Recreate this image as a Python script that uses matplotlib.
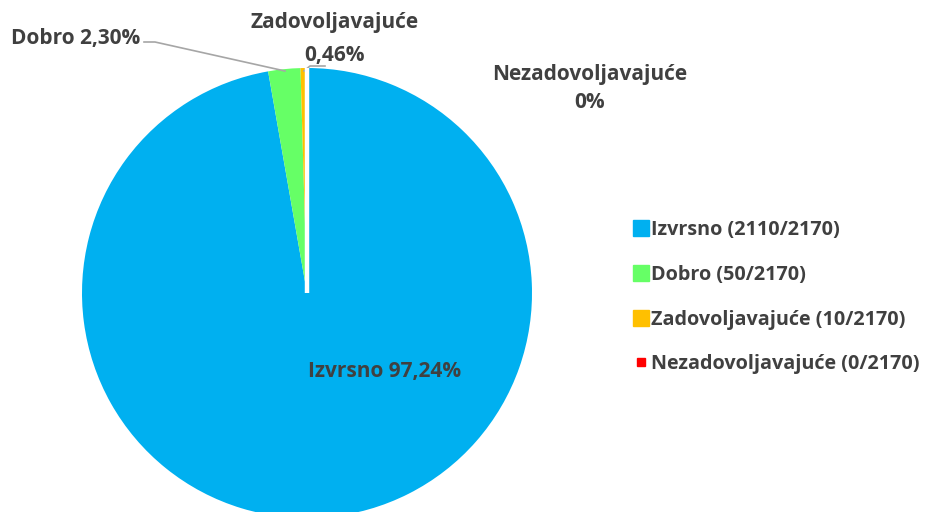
import matplotlib.pyplot as plt
from matplotlib.lines import Line2D

# podaci
kategorije = ['Izvrsno', 'Dobro', 'Zadovoljavajuće', 'Nezadovoljavajuće']
broj = [2110, 50, 10, 0]
ukupno = 2170
postotci = ['97,24%', '2,30%', '0,46%', '0%']
boje = ['#00B0F0', '#66FF66', '#FFC000', '#FF0000']

plt.rcParams['font.family'] = ['Open Sans', 'DejaVu Sans']
plt.rcParams['font.weight'] = 'bold'
tekst = '#404040'

fig = plt.figure(figsize=(9.29, 5.12), dpi=100)
ax = fig.add_axes([0, 0, 1, 1])

# pita (y os okrenuta, pa je counterclock=True zapravo smjer kazaljke)
wedges, _ = ax.pie(broj, colors=boje, startangle=-90, counterclock=True,
                   center=(307, 293), radius=225, frame=True)
ax.set_xlim(0, 929)
ax.set_ylim(512, 0)
ax.set_aspect('equal')
ax.axis('off')
for w in wedges:
    w.set_linewidth(0)
# bijela linija za nultu kategoriju
wedges[3].set_edgecolor('white')
wedges[3].set_linewidth(3.2)
wedges[3].set_zorder(5)

fs = 15
ax.text(385, 372, f'{kategorije[0]} {postotci[0]}', ha='center', va='center',
        fontsize=fs, color=tekst, fontweight='bold')
ax.text(140, 38, f'{kategorije[1]} {postotci[1]}', ha='right', va='center',
        fontsize=fs, color=tekst, fontweight='bold')
ax.plot([144, 155, 285], [42, 42, 71], color='#A6A6A6', lw=1.2)
ax.text(335, 22, kategorije[2], ha='center', va='center',
        fontsize=fs, color=tekst, fontweight='bold')
ax.text(335, 55, postotci[2], ha='center', va='center',
        fontsize=fs, color=tekst, fontweight='bold')
ax.plot([304, 310, 325], [71, 66, 66], color='#A6A6A6', lw=1.2)
ax.text(590, 74, kategorije[3], ha='center', va='center',
        fontsize=fs, color=tekst, fontweight='bold')
ax.text(590, 103, postotci[3], ha='center', va='center',
        fontsize=fs, color=tekst, fontweight='bold')

# legenda
vel = [11, 11, 11, 6]
handles = [Line2D([], [], marker='s', ls='none', markersize=v, color=b,
                  markeredgecolor=b) for v, b in zip(vel, boje)]
labels = [f'{k} ({n}/{ukupno})' for k, n in zip(kategorije, broj)]
leg = ax.legend(handles, labels, loc='upper left', bbox_to_anchor=(0.675, 0.585),
                frameon=False, fontsize=14.2, labelspacing=1.25,
                handlelength=0.6, handletextpad=0.2, borderaxespad=0)
for t in leg.get_texts():
    t.set_color(tekst)
    t.set_fontweight('bold')

fig.savefig('out.png', dpi=100)
